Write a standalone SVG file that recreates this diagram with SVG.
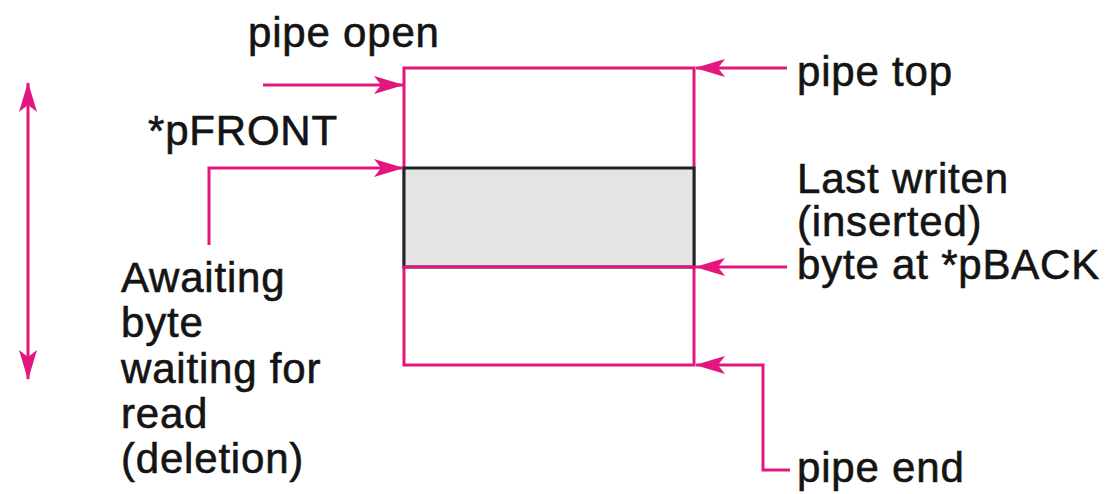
<svg xmlns="http://www.w3.org/2000/svg" width="1113" height="494" viewBox="0 0 1113 494">
<defs>
<style>
.p{stroke:#e3167f;stroke-width:3;fill:none}
.t{font-family:"Liberation Sans",Arial,sans-serif;font-size:42px;letter-spacing:0.8px;fill:#141414;stroke:#141414;stroke-width:0.6px}
</style>
<marker id="ah" viewBox="0 0 30 18" markerWidth="30" markerHeight="18" refX="29" refY="9" orient="auto-start-reverse" markerUnits="userSpaceOnUse">
<path d="M0,0 L30,9 L0,18 L7,9 z" fill="#e3167f"/>
</marker>
</defs>
<rect width="1113" height="494" fill="#fff"/>
<g id="pipe">
<rect x="404" y="68" width="290" height="297" class="p"/>
<rect x="404" y="168" width="290" height="99" fill="#e4e4e4" stroke="#1b2620" stroke-width="3"/>
<line x1="402.5" y1="267" x2="695.5" y2="267" class="p"/>
</g>
<g id="connectors">
<line x1="263" y1="85" x2="403" y2="85" class="p" marker-end="url(#ah)"/>
<path d="M209,245 V168 H403" class="p" marker-end="url(#ah)"/>
<line x1="28" y1="83" x2="28" y2="379" class="p" marker-start="url(#ah)" marker-end="url(#ah)"/>
<line x1="787" y1="68" x2="696" y2="68" class="p" marker-end="url(#ah)"/>
<line x1="787" y1="267" x2="696" y2="267" class="p" marker-end="url(#ah)"/>
<path d="M790,470 H763 V365 H696" class="p" marker-end="url(#ah)"/>
</g>
<g id="label-pipe-open"><text class="t" x="248" y="47">pipe open</text></g>
<g id="label-pfront"><text class="t" x="148" y="145">*pFRONT</text></g>
<g id="label-awaiting">
<text class="t" x="121" y="292">Awaiting</text>
<text class="t" x="121" y="337">byte</text>
<text class="t" x="121" y="383">waiting for</text>
<text class="t" x="121" y="428">read</text>
<text class="t" x="121" y="473">(deletion)</text>
</g>
<g id="label-pipe-top"><text class="t" x="797" y="86">pipe top</text></g>
<g id="label-last">
<text class="t" x="797" y="193">Last writen</text>
<text class="t" x="797" y="236">(inserted)</text>
<text class="t" x="797" y="279">byte at *pBACK</text>
</g>
<g id="label-pipe-end"><text class="t" x="797" y="482">pipe end</text></g>
</svg>
